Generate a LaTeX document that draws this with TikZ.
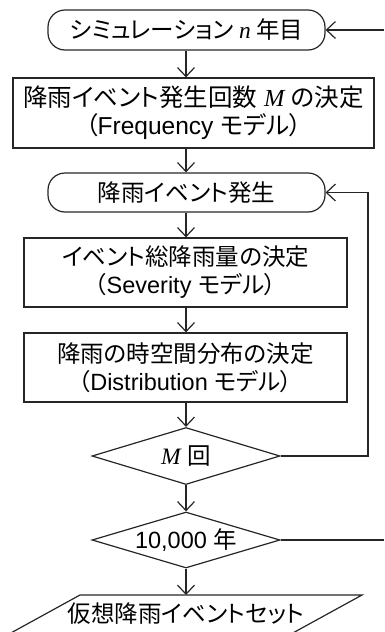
\documentclass[tikz,border=0pt]{standalone}
\usepackage{fontspec}
\setmainfont{Liberation Sans}
\newfontfamily\jp[RawFeature=+palt]{Noto Sans CJK JP}
\newfontfamily\tms{Liberation Serif}
\usetikzlibrary{arrows.meta,shapes.geometric}
\begin{document}
\begin{tikzpicture}[x=1pt,y=-1pt,
  font=\fontsize{23.5}{28}\selectfont,
  line width=1.2pt,
  ln/.style={draw=black!85},
  arr/.style={draw=black!85, -{Straight Barb[length=9pt,width=17pt,line width=1.2pt]}},
  term/.style={draw=black!85, rounded corners=17pt, minimum width=277pt, minimum height=40pt, inner sep=0pt},
  proc/.style={draw=black!85, minimum width=323pt, minimum height=69pt, align=center, inner sep=0pt},
  dec/.style={draw=black!85, diamond, aspect=3.24, minimum width=188pt, minimum height=57pt, inner sep=0pt}]
\useasboundingbox (0,0) rectangle (384,632);
\clip (0,0) rectangle (384,632);
\coordinate (ax) at (186,0);
\node[term] (t1) at (186.5,30) {\jp シミュレーション {\tms\itshape n} 年目};
\node[proc, minimum width=361pt, minimum height=70pt, font=\fontsize{24.5}{28}\selectfont] (b1) at (193.5,113)
  {{\jp 降雨イベント発生回数}\ {\tms\itshape M}\ {\jp の決定}\\{\jp （}Frequency {\jp モデル）}};
\node[term, minimum height=39pt] (t2) at (186.5,192.5) {\jp 降雨イベント発生};
\node[proc] (b2) at (185.5,272.5)
  {{\jp イベント総降雨量の決定}\\{\jp （}Severity {\jp モデル）}};
\node[proc] (b3) at (185.5,367.5)
  {{\jp 降雨の時空間分布の決定}\\{\jp （}Distribution {\jp モデル）}};
\node[dec] (d1) at (186,456) {{\tms\itshape M} {\jp 回}};
\node[dec, minimum height=56pt] (d2) at (186,540) {10,000 {\jp 年}};
\coordinate (ptop) at (186,595);
\draw[ln] (80,595) -- (362,595) -- (291,634) -- (9,634) -- cycle;
\node (p) at (186,614) {\jp 仮想降雨イベントセット};
\coordinate (r1) at (384,30);
\coordinate (r2) at (384,540);
\coordinate (lp) at (368,456);
\draw[arr] (ax |- t1.south) -- (ax |- b1.north);
\draw[arr] (ax |- b1.south) -- (ax |- t2.north);
\draw[arr] (ax |- t2.south) -- (ax |- b2.north);
\draw[arr] (ax |- b2.south) -- (ax |- b3.north);
\draw[arr] (ax |- b3.south) -- (d1.north);
\draw[arr] (d1.south) -- (d2.north);
\draw[arr] (d2.south) -- (ptop);
\draw[arr] (d1.east) -- (lp) -- (lp |- t2.east) -- (t2.east);
\draw[ln] (d2.east) -- (r2);
\draw[arr] (r1) -- (t1.east);
\end{tikzpicture}
\end{document}
